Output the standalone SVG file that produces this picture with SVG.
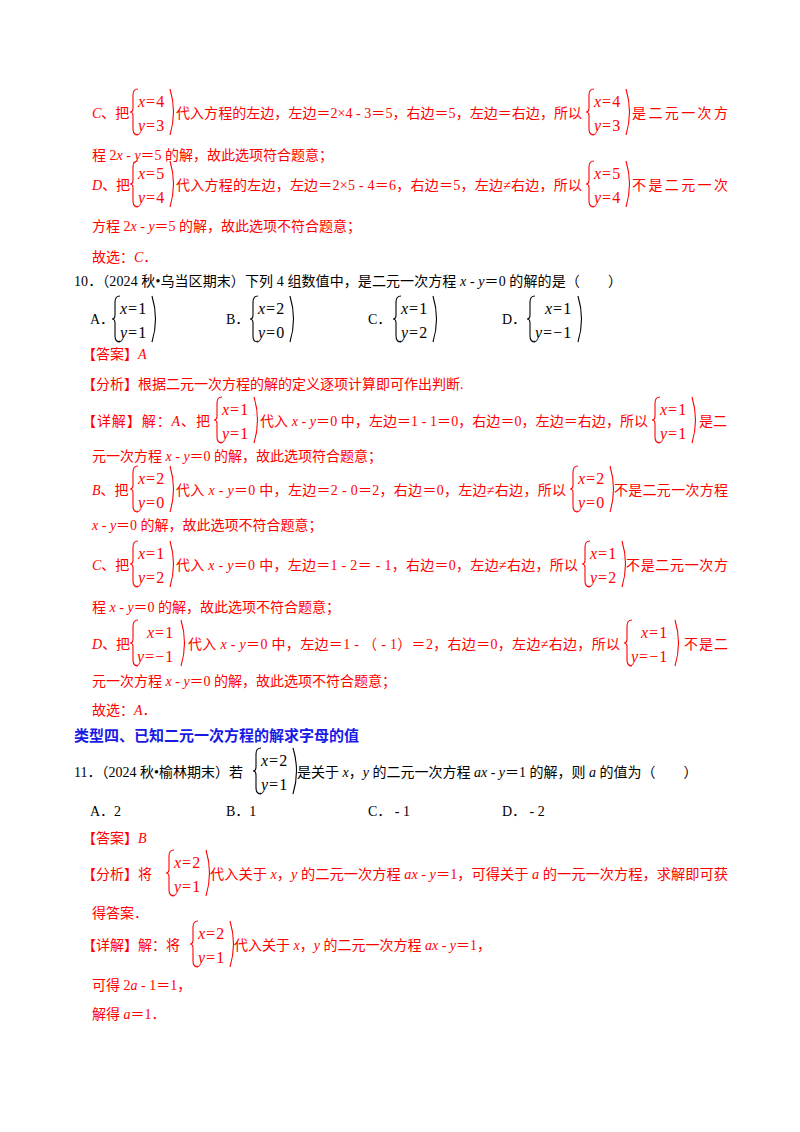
<svg xmlns="http://www.w3.org/2000/svg" width="800" height="1132" viewBox="0 0 800 1132">
<style>
text{font-family:"Liberation Serif","Noto Sans CJK SC",serif;font-size:14px;}
.r{fill:#ff0000}
.k{fill:#000}
.i{font-style:italic}
.m{font-size:16px;letter-spacing:1px}
.h{fill:#1a1ae6;font-weight:bold;font-size:15px;font-family:"Noto Sans CJK SC",sans-serif}
.br{fill:none;stroke-width:1.1}
.rs{stroke:#ff0000}
.ks{stroke:#000}
</style>
<defs>
<path id="lb" d="M8,0 Q3,0 3,6 V19 Q3,23 0,23 Q3,23 3,27 V40 Q3,46 8,46"/>
<path id="rp" d="M0,0 Q7,23 0,46"/>
</defs>
<rect width="800" height="1132" fill="#fff"/>

<!-- C line -->
<text class="r" x="92" y="118"><tspan class="i">C</tspan>、把</text>
<g class="br rs"><use href="#lb" x="130" y="89"/><use href="#rp" x="170" y="89"/><use href="#lb" x="586" y="89"/><use href="#rp" x="626" y="89"/></g>
<text class="r m" x="138" y="107"><tspan class="i">x</tspan>=4</text><text class="r m" x="138" y="131"><tspan class="i">y</tspan>=3</text>
<text class="r m" x="594" y="107"><tspan class="i">x</tspan>=4</text><text class="r m" x="594" y="131"><tspan class="i">y</tspan>=3</text>
<text class="r" x="176" y="118" textLength="406">代入方程的左边，左边＝2×4 - 3＝5，右边＝5，左边＝右边，所以</text>
<text class="r" x="632" y="118" textLength="96">是二元一次方</text>
<text class="r" x="92" y="160">程 2<tspan class="i">x</tspan> - <tspan class="i">y</tspan>＝5 的解，故此选项符合题意；</text>

<!-- D line -->
<text class="r" x="92" y="190"><tspan class="i">D</tspan>、把</text>
<g class="br rs"><use href="#lb" x="130" y="161"/><use href="#rp" x="170" y="161"/><use href="#lb" x="586" y="161"/><use href="#rp" x="626" y="161"/></g>
<text class="r m" x="138" y="179"><tspan class="i">x</tspan>=5</text><text class="r m" x="138" y="203"><tspan class="i">y</tspan>=4</text>
<text class="r m" x="594" y="179"><tspan class="i">x</tspan>=5</text><text class="r m" x="594" y="203"><tspan class="i">y</tspan>=4</text>
<text class="r" x="176" y="190" textLength="406">代入方程的左边，左边＝2×5 - 4＝6，右边＝5，左边≠右边，所以</text>
<text class="r" x="632" y="190" textLength="96">不是二元一次</text>
<text class="r" x="92" y="231">方程 2<tspan class="i">x</tspan> - <tspan class="i">y</tspan>＝5 的解，故此选项不符合题意；</text>
<text class="r" x="92" y="262">故选：<tspan class="i">C</tspan>．</text>

<!-- Q10 -->
<text class="k" x="74" y="286" textLength="548">10．（2024 秋•乌当区期末）下列 4 组数值中，是二元一次方程 <tspan class="i">x</tspan> - <tspan class="i">y</tspan>＝0 的解的是（　　）</text>
<g class="br ks">
<use href="#lb" x="112" y="296"/><use href="#rp" x="152" y="296"/>
<use href="#lb" x="250" y="296"/><use href="#rp" x="290" y="296"/>
<use href="#lb" x="393" y="296"/><use href="#rp" x="433" y="296"/>
<use href="#lb" x="527" y="296"/><use href="#rp" x="578" y="296"/>
</g>
<text class="k" x="90" y="324">A．</text><text class="k" x="226" y="324">B．</text><text class="k" x="368" y="324">C．</text><text class="k" x="502" y="324">D．</text>
<text class="k m" x="120" y="314"><tspan class="i">x</tspan>=1</text><text class="k m" x="120" y="338"><tspan class="i">y</tspan>=1</text>
<text class="k m" x="258" y="314"><tspan class="i">x</tspan>=2</text><text class="k m" x="258" y="338"><tspan class="i">y</tspan>=0</text>
<text class="k m" x="401" y="314"><tspan class="i">x</tspan>=1</text><text class="k m" x="401" y="338"><tspan class="i">y</tspan>=2</text>
<text class="k m" x="545" y="314"><tspan class="i">x</tspan>=1</text><text class="k m" x="535" y="338"><tspan class="i">y</tspan>=−1</text>

<text class="r" x="82" y="359">【答案】<tspan class="i">A</tspan></text>
<text class="r" x="82" y="389">【分析】根据二元一次方程的解的定义逐项计算即可作出判断.</text>

<text class="r" x="82" y="426" textLength="128">【详解】解：<tspan class="i">A</tspan>、把</text>
<g class="br rs"><use href="#lb" x="214" y="397"/><use href="#rp" x="254" y="397"/><use href="#lb" x="652" y="397"/><use href="#rp" x="692" y="397"/></g>
<text class="r m" x="222" y="415"><tspan class="i">x</tspan>=1</text><text class="r m" x="222" y="439"><tspan class="i">y</tspan>=1</text>
<text class="r m" x="660" y="415"><tspan class="i">x</tspan>=1</text><text class="r m" x="660" y="439"><tspan class="i">y</tspan>=1</text>
<text class="r" x="260" y="426" textLength="388">代入 <tspan class="i">x</tspan> - <tspan class="i">y</tspan>＝0 中，左边＝1 - 1＝0，右边＝0，左边＝右边，所以</text>
<text class="r" x="699" y="426">是二</text>
<text class="r" x="92" y="461">元一次方程 <tspan class="i">x</tspan> - <tspan class="i">y</tspan>＝0 的解，故此选项符合题意；</text>

<text class="r" x="92" y="495"><tspan class="i">B</tspan>、把</text>
<g class="br rs"><use href="#lb" x="130" y="466"/><use href="#rp" x="170" y="466"/><use href="#lb" x="570" y="466"/><use href="#rp" x="610" y="466"/></g>
<text class="r m" x="138" y="484"><tspan class="i">x</tspan>=2</text><text class="r m" x="138" y="508"><tspan class="i">y</tspan>=0</text>
<text class="r m" x="578" y="484"><tspan class="i">x</tspan>=2</text><text class="r m" x="578" y="508"><tspan class="i">y</tspan>=0</text>
<text class="r" x="176" y="495" textLength="390">代入 <tspan class="i">x</tspan> - <tspan class="i">y</tspan>＝0 中，左边＝2 - 0＝2，右边＝0，左边≠右边，所以</text>
<text class="r" x="614" y="495" textLength="114">不是二元一次方程</text>
<text class="r" x="92" y="530"><tspan class="i">x</tspan> - <tspan class="i">y</tspan>＝0 的解，故此选项不符合题意；</text>

<text class="r" x="92" y="570"><tspan class="i">C</tspan>、把</text>
<g class="br rs"><use href="#lb" x="130" y="541"/><use href="#rp" x="170" y="541"/><use href="#lb" x="582" y="541"/><use href="#rp" x="622" y="541"/></g>
<text class="r m" x="138" y="559"><tspan class="i">x</tspan>=1</text><text class="r m" x="138" y="583"><tspan class="i">y</tspan>=2</text>
<text class="r m" x="590" y="559"><tspan class="i">x</tspan>=1</text><text class="r m" x="590" y="583"><tspan class="i">y</tspan>=2</text>
<text class="r" x="176" y="570" textLength="402">代入 <tspan class="i">x</tspan> - <tspan class="i">y</tspan>＝0 中，左边＝1 - 2＝ - 1，右边＝0，左边≠右边，所以</text>
<text class="r" x="626" y="570" textLength="102">不是二元一次方</text>
<text class="r" x="92" y="612">程 <tspan class="i">x</tspan> - <tspan class="i">y</tspan>＝0 的解，故此选项不符合题意；</text>

<text class="r" x="92" y="649"><tspan class="i">D</tspan>、把</text>
<g class="br rs"><use href="#lb" x="130" y="620"/><use href="#rp" x="181" y="620"/><use href="#lb" x="624" y="620"/><use href="#rp" x="675" y="620"/></g>
<text class="r m" x="147" y="638"><tspan class="i">x</tspan>=1</text><text class="r m" x="137" y="662"><tspan class="i">y</tspan>=−1</text>
<text class="r m" x="641" y="638"><tspan class="i">x</tspan>=1</text><text class="r m" x="631" y="662"><tspan class="i">y</tspan>=−1</text>
<text class="r" x="188" y="649" textLength="432">代入 <tspan class="i">x</tspan> - <tspan class="i">y</tspan>＝0 中，左边＝1 - （ - 1）＝2，右边＝0，左边≠右边，所以</text>
<text class="r" x="684" y="649" textLength="44">不是二</text>
<text class="r" x="92" y="686">元一次方程 <tspan class="i">x</tspan> - <tspan class="i">y</tspan>＝0 的解，故此选项不符合题意；</text>
<text class="r" x="92" y="715">故选：<tspan class="i">A</tspan>．</text>

<text class="h" x="74" y="741">类型四、已知二元一次方程的解求字母的值</text>

<!-- Q11 -->
<text class="k" x="74" y="777">11．（2024 秋•榆林期末）若</text>
<g class="br ks"><use href="#lb" x="253" y="748"/><use href="#rp" x="293" y="748"/></g>
<text class="k m" x="261" y="766"><tspan class="i">x</tspan>=2</text><text class="k m" x="261" y="790"><tspan class="i">y</tspan>=1</text>
<text class="k" x="297" y="777">是关于 <tspan class="i">x</tspan>，<tspan class="i">y</tspan> 的二元一次方程 <tspan class="i">ax</tspan> - <tspan class="i">y</tspan>＝1 的解，则 <tspan class="i">a</tspan> 的值为（　　）</text>
<text class="k" x="90" y="816">A．2</text><text class="k" x="226" y="816">B．1</text><text class="k" x="368" y="816">C． - 1</text><text class="k" x="502" y="816">D． - 2</text>

<text class="r" x="82" y="843">【答案】<tspan class="i">B</tspan></text>
<text class="r" x="82" y="879">【分析】将</text>
<g class="br rs"><use href="#lb" x="166" y="850"/><use href="#rp" x="206" y="850"/></g>
<text class="r m" x="174" y="868"><tspan class="i">x</tspan>=2</text><text class="r m" x="174" y="892"><tspan class="i">y</tspan>=1</text>
<text class="r" x="210" y="879" textLength="518" lengthAdjust="spacingAndGlyphs">代入关于 <tspan class="i">x</tspan>，<tspan class="i">y</tspan> 的二元一次方程 <tspan class="i">ax</tspan> - <tspan class="i">y</tspan>＝1，可得关于 <tspan class="i">a</tspan> 的一元一次方程，求解即可获</text>
<text class="r" x="92" y="918">得答案．</text>

<text class="r" x="82" y="950">【详解】解：将</text>
<g class="br rs"><use href="#lb" x="190" y="921"/><use href="#rp" x="230" y="921"/></g>
<text class="r m" x="198" y="939"><tspan class="i">x</tspan>=2</text><text class="r m" x="198" y="963"><tspan class="i">y</tspan>=1</text>
<text class="r" x="234" y="950">代入关于 <tspan class="i">x</tspan>，<tspan class="i">y</tspan> 的二元一次方程 <tspan class="i">ax</tspan> - <tspan class="i">y</tspan>＝1，</text>
<text class="r" x="92" y="990">可得 2<tspan class="i">a</tspan> - 1＝1，</text>
<text class="r" x="92" y="1019">解得 <tspan class="i">a</tspan>＝1．</text>
</svg>
